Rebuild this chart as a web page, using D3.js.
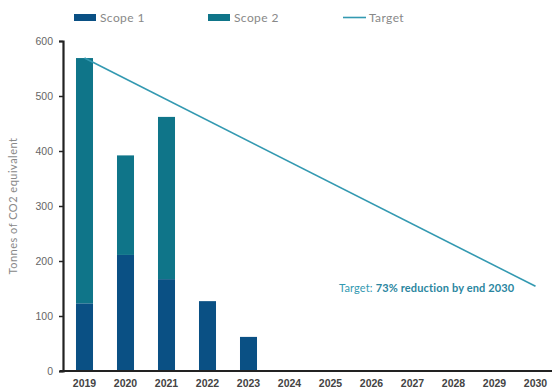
<!DOCTYPE html>
<html>
<head>
<meta charset="utf-8">
<script src="https://cdn.jsdelivr.net/npm/d3@7"></script>
<style>
  html, body { margin: 0; padding: 0; background: #fff; }
  svg { display: block; font-family: "Lato", "DejaVu Sans", sans-serif; }
</style>
</head>
<body>
<svg id="chart" width="552" height="391"></svg>
<script>
// Emissions by year (tonnes CO2e)
const years = ["2019", "2020", "2021", "2022", "2023", "2024", "2025", "2026", "2027", "2028", "2029", "2030"];
const scope1 = [123, 211, 167, 127, 62, null, null, null, null, null, null, null];
const scope2 = [446, 181, 295, 0, 0, null, null, null, null, null, null, null];
// Target trajectory: baseline 2019 to 73% reduction by end 2030
const targetYears = ["2019", "2030"];
const targetValues = [569, 154];
const yTicks = [0, 100, 200, 300, 400, 500, 600];

const colors = { scope1: "#0a5084", scope2: "#0f7589", target: "#3399b1" };

const svg = d3.select("#chart");
const margin = { left: 63, top: 41 };
const width = 552;

const x = d3.scaleBand()
  .domain(years)
  .range([margin.left + 1, margin.left + 1 + 41 * years.length])
  .paddingInner(0.585)
  .paddingOuter(0.2925);

const y = d3.scaleLinear().domain([0, 600]).range([371, 41]);

// Stacked bars
const rows = years.map((yr, i) => ({ year: yr, scope1: scope1[i] || 0, scope2: scope2[i] || 0 }));
const stack = d3.stack().keys(["scope1", "scope2"])(rows);

svg.append("g").selectAll("g")
  .data(stack)
  .join("g")
  .attr("fill", d => colors[d.key])
  .selectAll("rect")
  .data(d => d.filter(p => p[1] - p[0] > 0))
  .join("rect")
  .attr("x", d => x(d.data.year))
  .attr("width", x.bandwidth())
  .attr("y", d => y(d[1]))
  .attr("height", d => y(d[0]) - y(d[1]));

// Target line
const line = d3.line()
  .x((d, i) => x(targetYears[i]) + x.bandwidth() / 2)
  .y(d => y(d));
svg.append("path")
  .datum(targetValues)
  .attr("d", line)
  .attr("fill", "none")
  .attr("stroke", colors.target)
  .attr("stroke-width", 1.6);

// Y axis
const yAxis = svg.append("g")
  .attr("transform", `translate(${margin.left},0)`)
  .call(d3.axisLeft(y).tickValues(yTicks).tickSize(4).tickPadding(6));
yAxis.select(".domain").attr("stroke", "#222").attr("stroke-width", 2.2);
yAxis.selectAll(".tick line").attr("stroke", "#222").attr("stroke-width", 1.5);
yAxis.selectAll(".tick text")
  .attr("fill", "#666").attr("font-size", 10.5);

// X axis
const xAxis = svg.append("g")
  .attr("transform", `translate(0,371)`)
  .call(d3.axisBottom(x).tickSize(0).tickPadding(9));
xAxis.select(".domain")
  .attr("d", `M${margin.left - 3},0H${width}`)
  .attr("stroke", "#222").attr("stroke-width", 2.2);
xAxis.selectAll(".tick text")
  .attr("fill", "#444").attr("font-size", 10.5).attr("font-weight", "bold");

// Y axis title
svg.append("text")
  .attr("transform", `translate(17,${(41 + 371) / 2}) rotate(-90)`)
  .attr("text-anchor", "middle")
  .attr("fill", "#888")
  .attr("font-size", 11)
  .attr("letter-spacing", 0.5)
  .text("Tonnes of CO2 equivalent");

// Target annotation
const note = svg.append("text")
  .attr("x", 339).attr("y", 292)
  .attr("fill", colors.target)
  .attr("font-size", 11)
  .attr("letter-spacing", 0.15);
note.append("tspan").text("Target: ");
note.append("tspan").attr("font-weight", "bold").attr("fill", "#2a86a0").text("73% reduction by end 2030");

// Legend
const legend = svg.append("g").attr("font-size", 12).attr("letter-spacing", 0.4);
const legendItems = [
  { label: "Scope 1", key: "scope1", x: 74, type: "box" },
  { label: "Scope 2", key: "scope2", x: 208, type: "box" },
  { label: "Target", key: "target", x: 343, type: "line" }
];
legendItems.forEach(it => {
  if (it.type === "box") {
    legend.append("rect").attr("x", it.x).attr("y", 14).attr("width", 22).attr("height", 7).attr("fill", colors[it.key]);
  } else {
    legend.append("line").attr("x1", it.x).attr("x2", it.x + 23).attr("y1", 17.5).attr("y2", 17.5)
      .attr("stroke", colors[it.key]).attr("stroke-width", 1.6);
  }
  legend.append("text").attr("x", it.x + 26).attr("y", 22).attr("fill", "#888").text(it.label);
});
</script>
</body>
</html>
